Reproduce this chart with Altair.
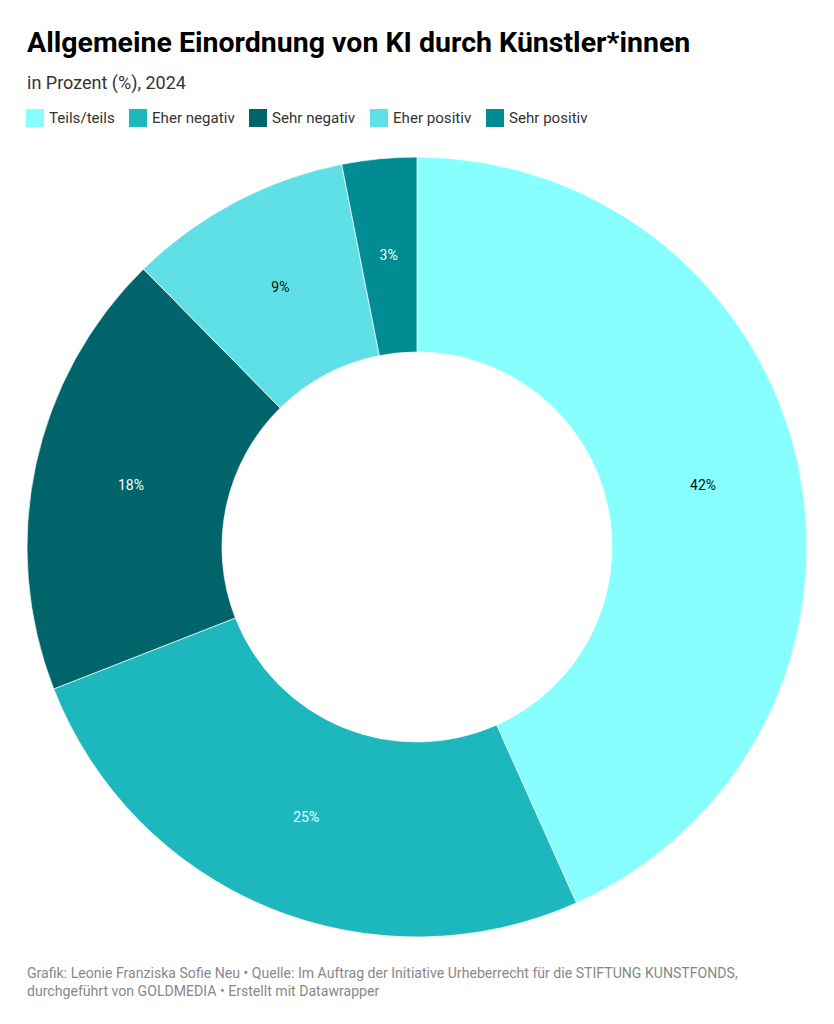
import altair as alt
import pandas as pd

categories = ["Teils/teils", "Eher negativ", "Sehr negativ", "Eher positiv", "Sehr positiv"]
values = [42, 25, 18, 9, 3]
labels = ["42%", "25%", "18%", "9%", "3%"]
colors = ["#88FFFF", "#1DB8BD", "#00656B", "#5EE0E6", "#008C92"]
dark_text_categories = ["Teils/teils", "Eher positiv"]

title_text = "Allgemeine Einordnung von KI durch Künstler*innen"
subtitle_text = "in Prozent (%), 2024"
footer_lines = [
    "Grafik: Leonie Franziska Sofie Neu • Quelle: Im Auftrag der Initiative Urheberrecht für die STIFTUNG KUNSTFONDS,",
    "durchgeführt von GOLDMEDIA • Erstellt mit Datawrapper",
]

df = pd.DataFrame({
    "Kategorie": categories,
    "Wert": values,
    "Label": labels,
    "Reihenfolge": list(range(len(categories))),
})

FONT = "Roboto"
CX, CY = 409, 539
R_OUT, R_IN = 390, 195

base = alt.Chart(df).encode(
    theta=alt.Theta("Wert:Q", stack=True),
    order=alt.Order("Reihenfolge:Q"),
)

arcs = base.mark_arc(outerRadius=R_OUT, innerRadius=R_IN, stroke="#ffffff", strokeWidth=0.7).encode(
    color=alt.Color(
        "Kategorie:N",
        scale=alt.Scale(domain=categories, range=colors),
        legend=alt.Legend(
            title=None,
            orient="none",
            legendX=18,
            legendY=101,
            direction="horizontal",
            symbolType="square",
            symbolSize=324,
            symbolStrokeWidth=0,
            symbolOpacity=1,
            labelFont=FONT,
            labelFontSize=15.1,
            labelColor="#333333",
            labelOffset=5,
            columnPadding=14,
            padding=0,
        ),
    ),
    x=alt.value(CX),
    y=alt.value(CY),
)

texts = base.mark_text(radius=(R_OUT + R_IN) / 2, font=FONT, fontSize=14).encode(
    text="Label:N",
    color=alt.condition(
        alt.FieldOneOfPredicate(field="Kategorie", oneOf=dark_text_categories),
        alt.value("#111111"),
        alt.value("#ffffff"),
    ),
    x=alt.value(CX),
    y=alt.value(CY),
)

title_df = pd.DataFrame({"t": [title_text]})
title = alt.Chart(title_df).mark_text(
    font=FONT, fontSize=28.5, fontWeight="bold", align="left", baseline="alphabetic", color="#000000"
).encode(text="t:N", x=alt.value(19), y=alt.value(44))

sub_df = pd.DataFrame({"t": [subtitle_text]})
subtitle = alt.Chart(sub_df).mark_text(
    font=FONT, fontSize=18, align="left", baseline="alphabetic", color="#333333"
).encode(text="t:N", x=alt.value(19), y=alt.value(81))

foot1 = alt.Chart(pd.DataFrame({"t": [footer_lines[0]]})).mark_text(
    font=FONT, fontSize=14.1, align="left", baseline="alphabetic", color="#888888"
).encode(text="t:N", x=alt.value(19), y=alt.value(970))
foot2 = alt.Chart(pd.DataFrame({"t": [footer_lines[1]]})).mark_text(
    font=FONT, fontSize=14.1, align="left", baseline="alphabetic", color="#888888"
).encode(text="t:N", x=alt.value(19), y=alt.value(988))

chart = alt.layer(arcs, texts, title, subtitle, foot1, foot2).properties(
    width=818,
    height=1000,
    padding=0,
    autosize=alt.AutoSizeParams(type="none"),
    background="#ffffff",
).configure_view(stroke=None)

chart.save("out.html", embed_options={"renderer": "svg", "actions": False})
